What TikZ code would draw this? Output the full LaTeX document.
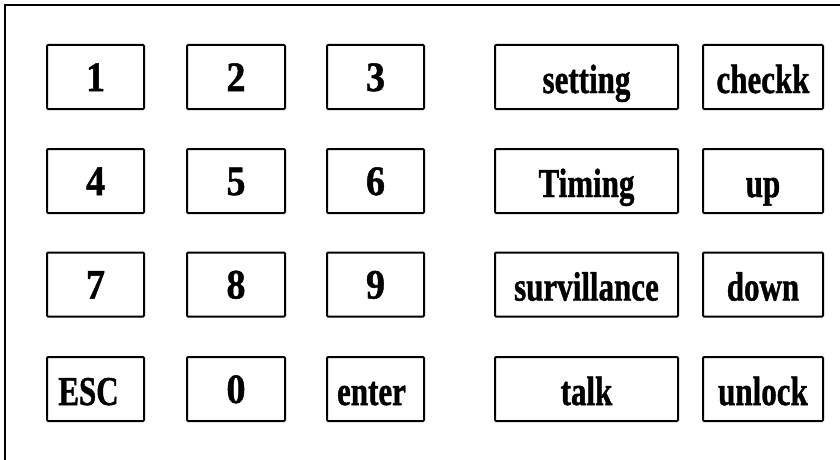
\documentclass[tikz,border=0pt]{standalone}
\usepackage{graphicx}
\usepackage{fontspec}
\setmainfont{Liberation Serif}[BoldFeatures={FakeBold=1.2}]
\newcommand{\kt}[1]{\scalebox{1}[1.32]{#1}}
\newcommand{\kd}[1]{\scalebox{1}[1.1]{#1}}
\begin{document}
\begin{tikzpicture}[x=1pt,y=-1pt,
  keybox/.style={draw=black, line width=2pt, rectangle, rounded corners=1pt, inner sep=0pt,
    minimum height=64pt, text height=32pt, text depth=0pt,
    font=\bfseries\fontsize{31}{36}\selectfont},
  digit/.style={keybox, text height=28pt, font=\bfseries\fontsize{38}{44}\selectfont},
  wa/.style={minimum width=97pt},
  wb/.style={minimum width=98pt},
  wc/.style={minimum width=97pt},
  wd/.style={minimum width=183pt},
  we/.style={minimum width=120pt}]
\useasboundingbox (0,0) rectangle (840,460);
\coordinate (fbl) at (5,461);
\coordinate (ftl) at (5,5);
\coordinate (ftr) at (841,5);
\draw[line width=2pt] (fbl) -- (ftl) -- (ftr);
% row 1
\node[digit,wa] (k1) at (95.5,77) {\kd{1}};
\node[digit,wb] (k2) at (236,77) {\kd{2}};
\node[digit,wc] (k3) at (375.5,77) {\kd{3}};
\node[keybox,wd] (kset) at (586.5,77) {\kt{setting}};
\node[keybox,we] (kchk) at (763,77) {\kt{checkk}};
% row 2
\node[digit,wa] (k4) at (95.5,181) {\kd{4}};
\node[digit,wb] (k5) at (236,181) {\kd{5}};
\node[digit,wc] (k6) at (375.5,181) {\kd{6}};
\node[keybox,wd] (ktim) at (586.5,181) {\kt{Timing}};
\node[keybox,we] (kup) at (763,181) {\kt{up}};
% row 3
\node[digit,wa] (k7) at (95.5,284.5) {\kd{7}};
\node[digit,wb] (k8) at (236,284.5) {\kd{8}};
\node[digit,wc] (k9) at (375.5,284.5) {\kd{9}};
\node[keybox,wd] (ksur) at (586.5,284.5) {\kt{survillance}};
\node[keybox,we] (kdown) at (763,284.5) {\kt{down}};
% row 4
\node[keybox,wa] (kesc) at (95.5,389) {\kt{ESC}\hspace*{14pt}};
\node[digit,wb] (k0) at (236,389) {\kd{0}};
\node[keybox,wc] (kent) at (375.5,389) {\kt{enter}\hspace*{8pt}};
\node[keybox,wd] (ktalk) at (586.5,389) {\kt{talk}};
\node[keybox,we] (kunl) at (763,389) {\kt{unlock}};
\end{tikzpicture}
\end{document}
